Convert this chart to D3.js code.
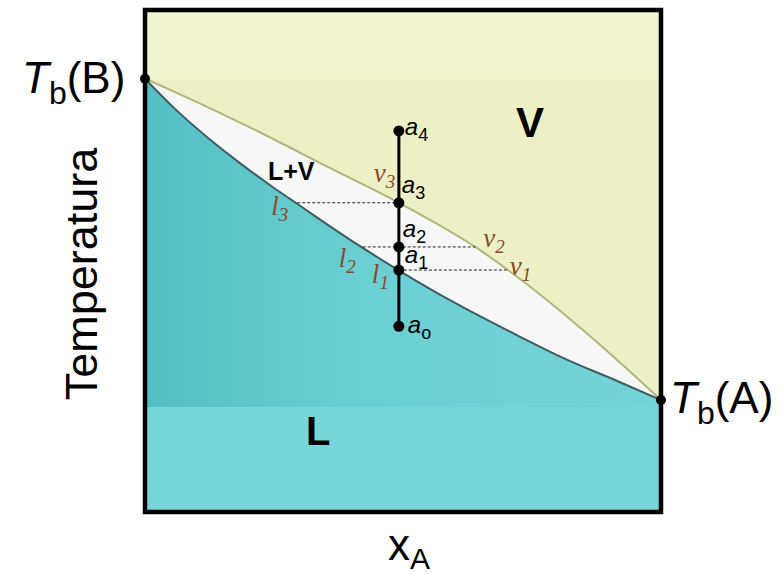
<!DOCTYPE html>
<html>
<head>
<meta charset="utf-8">
<script src="https://cdn.jsdelivr.net/npm/d3@7"></script>
<style>
  body { margin: 0; background: #fff; }
  svg { display: block; }
</style>
</head>
<body>
<svg width="783" height="574"></svg>
<script>
var svg = d3.select("svg");

// composition xA (0..1) and temperature (arbitrary units, 0..100 inside the frame)
var liquidX = [0, 0.054, 0.12, 0.184, 0.248, 0.295, 0.333, 0.422, 0.494, 0.591, 0.649, 0.727, 0.81, 0.915, 1];
var liquidT = [86.3, 80.7, 74.7, 69.5, 64.7, 61.4, 58.7, 52.6, 48.0, 42.2, 39.0, 34.9, 30.7, 26.1, 22.3];

var vaporX = [0, 0.116, 0.229, 0.359, 0.492, 0.64, 0.727, 0.81, 0.915, 1];
var vaporT = [86.3, 80.9, 75.3, 68.5, 61.6, 52.8, 46.4, 39.6, 30.3, 22.3];

// the isopleth a0..a4 at fixed composition
var pointNames = ["4", "3", "2", "1", "o"];
var pointX = 0.492;
var pointT = [75.9, 61.6, 52.8, 48.2, 37.0];

// tie lines l-v
var tieNames = ["3", "2", "1"];
var tieT = [61.6, 52.8, 48.2];
var tieL = [0.295, 0.422, 0.492];
var tieV = [0.492, 0.64, 0.701];

var fx0 = 145, fx1 = 661, fy0 = 10, fy1 = 512;

var x = d3.scaleLinear().domain([0, 1]).range([fx0, fx1]);
var y = d3.scaleLinear().domain([0, 100]).range([fy1, fy0]);

var liquid = liquidX.map(function(d, i) { return [d, liquidT[i]]; });
var vapor = vaporX.map(function(d, i) { return [d, vaporT[i]]; });

var defs = svg.append("defs");
var grad = defs.append("linearGradient").attr("id", "teal")
  .attr("x1", "0").attr("x2", "1").attr("y1", "0").attr("y2", "0");
grad.append("stop").attr("offset", "0").attr("stop-color", "#52bfc4");
grad.append("stop").attr("offset", "0.45").attr("stop-color", "#6ccfd3");
grad.append("stop").attr("offset", "1").attr("stop-color", "#74d4d8");

defs.append("clipPath").attr("id", "frame")
  .append("rect").attr("x", fx0).attr("y", fy0)
  .attr("width", fx1 - fx0).attr("height", fy1 - fy0);

var plot = svg.append("g").attr("clip-path", "url(#frame)");

// vapour region background
plot.append("rect")
  .attr("x", fx0).attr("y", fy0)
  .attr("width", fx1 - fx0).attr("height", fy1 - fy0)
  .attr("fill", "#f1f3cf");
plot.append("rect")
  .attr("x", fx0).attr("y", y(86.3))
  .attr("width", fx1 - fx0).attr("height", fy1 - y(86.3))
  .attr("fill", "#edefc5");

var area = d3.area()
  .x(function(d) { return x(d[0]); })
  .y0(fy1)
  .y1(function(d) { return y(d[1]); })
  .curve(d3.curveMonotoneX);

// L+V region (under dew curve), then liquid (under bubble curve)
plot.append("path").datum(vapor).attr("d", area).attr("fill", "#f6f8f7");
plot.append("path").datum(liquid).attr("d", area).attr("fill", "url(#teal)");
plot.append("rect")
  .attr("x", fx0).attr("y", 407)
  .attr("width", fx1 - fx0).attr("height", fy1 - 407)
  .attr("fill", "#77d6da");

var line = d3.line()
  .x(function(d) { return x(d[0]); })
  .y(function(d) { return y(d[1]); })
  .curve(d3.curveMonotoneX);

plot.append("path").datum(vapor).attr("d", line)
  .attr("fill", "none").attr("stroke", "#b3b57a").attr("stroke-width", 2);
plot.append("path").datum(liquid).attr("d", line)
  .attr("fill", "none").attr("stroke", "#3e5d61").attr("stroke-width", 2);

// tie lines
svg.selectAll(".tie").data(tieT).enter().append("line")
  .attr("class", "tie")
  .attr("x1", function(d, i) { return x(tieL[i]); })
  .attr("x2", function(d, i) { return x(tieV[i]); })
  .attr("y1", function(d) { return y(d); })
  .attr("y2", function(d) { return y(d); })
  .attr("stroke", "#222").attr("stroke-width", 1)
  .attr("stroke-dasharray", "3,2");

// isopleth
svg.append("line")
  .attr("x1", x(pointX)).attr("x2", x(pointX))
  .attr("y1", y(d3.max(pointT))).attr("y2", y(d3.min(pointT)))
  .attr("stroke", "#000").attr("stroke-width", 3);

svg.selectAll(".pt").data(pointT).enter().append("circle")
  .attr("class", "pt")
  .attr("cx", x(pointX))
  .attr("cy", function(d) { return y(d); })
  .attr("r", 5.5)
  .attr("fill", "#000");

// a labels
var aOff = [[6, 4], [3, -10], [4, -10], [6, -7], [9, 7]];
var aLab = svg.selectAll(".alab").data(pointT).enter().append("text")
  .attr("class", "alab")
  .attr("x", function(d, i) { return x(pointX) + aOff[i][0]; })
  .attr("y", function(d, i) { return y(d) + aOff[i][1]; })
  .attr("font-family", "Liberation Sans, Arial, sans-serif")
  .attr("font-size", 24)
  .attr("fill", "#000");
aLab.append("tspan").attr("font-style", "italic").text("a");
aLab.append("tspan").attr("dy", 6).attr("font-size", 18)
  .text(function(d, i) { return pointNames[i]; });

// l and v labels
var brown = "#8a4b2c";
function italLabel(letter, sub, px, py) {
  var t = svg.append("text")
    .attr("x", px).attr("y", py)
    .attr("font-family", "Liberation Serif, Times New Roman, serif")
    .attr("font-style", "italic")
    .attr("font-size", 27)
    .attr("fill", brown);
  t.append("tspan").text(letter);
  t.append("tspan").attr("dy", 6).attr("font-size", 19).text(sub);
}
tieNames.forEach(function(n, i) {
  var lOff = [[-26, 12], [-24, 20], [-27, 13]][i];
  var vOff = [[-25, -21], [8, 0], [3, 5]][i];
  italLabel("l", n, x(tieL[i]) + lOff[0], y(tieT[i]) + lOff[1]);
  italLabel("v", n, x(tieV[i]) + vOff[0], y(tieT[i]) + vOff[1]);
});

// region labels
function bold(txt, px, py, size) {
  svg.append("text").attr("x", px).attr("y", py)
    .attr("font-family", "Liberation Sans, Arial, sans-serif")
    .attr("font-weight", "bold").attr("font-size", size)
    .attr("fill", "#000").text(txt);
}
bold("V", 516, 137, 42);
bold("L+V", 268, 180, 25);
bold("L", 306, 445, 40);

// frame
svg.append("rect")
  .attr("x", fx0).attr("y", fy0)
  .attr("width", fx1 - fx0).attr("height", fy1 - fy0)
  .attr("fill", "none").attr("stroke", "#000").attr("stroke-width", 4.5);

// end points
svg.append("circle").attr("cx", x(0)).attr("cy", y(liquidT[0])).attr("r", 5).attr("fill", "#000");
svg.append("circle").attr("cx", x(1)).attr("cy", y(liquidT[liquidT.length - 1])).attr("r", 5).attr("fill", "#000");

function tbLabel(comp, px, py) {
  var t = svg.append("text").attr("x", px).attr("y", py)
    .attr("font-family", "Liberation Sans, Arial, sans-serif")
    .attr("font-size", 44).attr("fill", "#000");
  t.append("tspan").attr("font-style", "italic").text("T");
  t.append("tspan").attr("dy", 11).attr("font-size", 32).text("b");
  t.append("tspan").attr("dy", -11).text("(" + comp + ")");
}
tbLabel("B", 22, 93);
tbLabel("A", 670, 413);

// axis titles
svg.append("text")
  .attr("transform", "translate(97,274) rotate(-90)")
  .attr("text-anchor", "middle")
  .attr("font-family", "Liberation Sans, Arial, sans-serif")
  .attr("font-size", 45).attr("fill", "#000")
  .text("Temperatura");

var xt = svg.append("text").attr("x", 388).attr("y", 560)
  .attr("font-family", "Liberation Sans, Arial, sans-serif")
  .attr("font-size", 44).attr("fill", "#000");
xt.append("tspan").text("x");
xt.append("tspan").attr("dy", 9).attr("font-size", 30).text("A");
</script>
</body>
</html>
